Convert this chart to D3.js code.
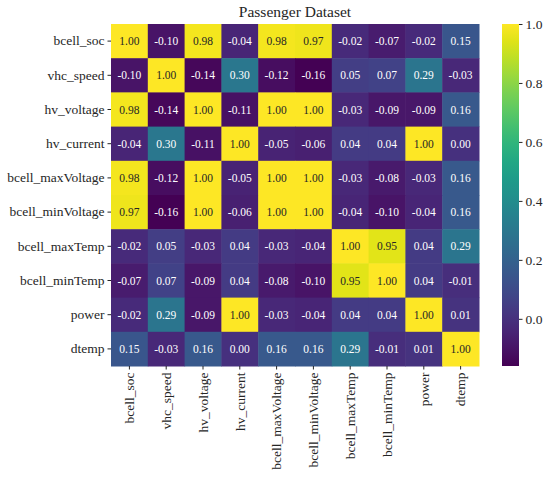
<!DOCTYPE html>
<html>
<head>
<meta charset="utf-8">
<script src="https://cdn.jsdelivr.net/npm/d3@7"></script>
<style>
  body { margin: 0; background: #fff; }
  svg { font-family: "Liberation Serif", "DejaVu Serif", serif; }
</style>
</head>
<body>
<div id="chart"></div>
<script>
  const labels = ['bcell_soc', 'vhc_speed', 'hv_voltage', 'hv_current', 'bcell_maxVoltage',
                  'bcell_minVoltage', 'bcell_maxTemp', 'bcell_minTemp', 'power', 'dtemp'];

  const corr = [
    [ 1.00, -0.10,  0.98, -0.04,  0.98,  0.97, -0.02, -0.07, -0.02,  0.15],
    [-0.10,  1.00, -0.14,  0.30, -0.12, -0.16,  0.05,  0.07,  0.29, -0.03],
    [ 0.98, -0.14,  1.00, -0.11,  1.00,  1.00, -0.03, -0.09, -0.09,  0.16],
    [-0.04,  0.30, -0.11,  1.00, -0.05, -0.06,  0.04,  0.04,  1.00,  0.00],
    [ 0.98, -0.12,  1.00, -0.05,  1.00,  1.00, -0.03, -0.08, -0.03,  0.16],
    [ 0.97, -0.16,  1.00, -0.06,  1.00,  1.00, -0.04, -0.10, -0.04,  0.16],
    [-0.02,  0.05, -0.03,  0.04, -0.03, -0.04,  1.00,  0.95,  0.04,  0.29],
    [-0.07,  0.07, -0.09,  0.04, -0.08, -0.10,  0.95,  1.00,  0.04, -0.01],
    [-0.02,  0.29, -0.09,  1.00, -0.03, -0.04,  0.04,  0.04,  1.00,  0.01],
    [ 0.15, -0.03,  0.16,  0.00,  0.16,  0.16,  0.29, -0.01,  0.01,  1.00]
  ];

  const colorbarTicks = [0.0, 0.2, 0.4, 0.6, 0.8, 1.0];
  const chartTitle = 'Passenger Dataset';

  const width = 550, height = 482;
  const margin = {top: 24, left: 111, right: 71, bottom: 116};
  const plotW = 479 - margin.left;
  const plotH = 366 - margin.top;

  const vmin = d3.min(corr.flat());
  const vmax = d3.max(corr.flat());

  const color = d3.scaleSequential(d3.interpolateViridis).domain([vmin, vmax]);

  const svg = d3.select('#chart').append('svg')
    .attr('width', width)
    .attr('height', height);

  const g = svg.append('g').attr('transform', `translate(${margin.left},${margin.top})`);

  const x = d3.scaleBand().domain(labels).range([0, plotW]);
  const y = d3.scaleBand().domain(labels).range([0, plotH]);

  const cells = [];
  corr.forEach((row, i) => row.forEach((v, j) => cells.push({r: labels[i], c: labels[j], v})));

  g.selectAll('rect.cell')
    .data(cells)
    .enter()
    .append('rect')
      .attr('class', 'cell')
      .attr('x', d => x(d.c))
      .attr('y', d => y(d.r))
      .attr('width', x.bandwidth() + 0.5)
      .attr('height', y.bandwidth() + 0.5)
      .attr('fill', d => color(d.v));

  // annotation colour like seaborn: dark text on light cells
  const textColor = v => {
    const c = d3.rgb(color(v));
    const lum = [c.r, c.g, c.b].map(ch => {
      ch /= 255;
      return ch <= 0.03928 ? ch / 12.92 : Math.pow((ch + 0.055) / 1.055, 2.4);
    });
    const L = 0.2126 * lum[0] + 0.7152 * lum[1] + 0.0722 * lum[2];
    return L > 0.408 ? '#262626' : '#ffffff';
  };

  g.selectAll('text.annot')
    .data(cells)
    .enter()
    .append('text')
      .attr('class', 'annot')
      .attr('x', d => x(d.c) + x.bandwidth() / 2)
      .attr('y', d => y(d.r) + y.bandwidth() / 2)
      .attr('text-anchor', 'middle')
      .attr('dominant-baseline', 'central')
      .attr('font-size', 11.5)
      .attr('fill', d => textColor(d.v))
      .text(d => d.v.toFixed(2));

  // axes
  const yAxis = g.append('g')
    .call(d3.axisLeft(y).tickSize(3.5).tickPadding(3));
  const xAxis = g.append('g')
    .attr('transform', `translate(0,${plotH})`)
    .call(d3.axisBottom(x).tickSize(3.5).tickPadding(3));

  [yAxis, xAxis].forEach(ax => {
    ax.select('.domain').remove();
    ax.selectAll('.tick line').attr('stroke', '#262626').attr('stroke-width', 1);
    ax.selectAll('.tick text')
      .attr('fill', '#262626')
      .attr('font-size', 13.5)
      .attr('font-family', '"Liberation Serif", serif');
  });

  xAxis.selectAll('.tick text')
    .attr('transform', 'rotate(-90)')
    .attr('text-anchor', 'end')
    .attr('x', -6.5)
    .attr('y', 0)
    .attr('dy', '0.35em');

  // title
  svg.append('text')
    .attr('x', margin.left + plotW / 2)
    .attr('y', 17)
    .attr('text-anchor', 'middle')
    .attr('font-size', 15.5)
    .attr('fill', '#262626')
    .text(chartTitle);

  // colorbar
  const cbX = 502, cbW = 17;
  const cbScale = d3.scaleLinear().domain([vmin, vmax]).range([plotH, 0]);

  const defs = svg.append('defs');
  const grad = defs.append('linearGradient')
    .attr('id', 'cbgrad')
    .attr('x1', 0).attr('y1', 1).attr('x2', 0).attr('y2', 0);
  d3.range(0, 1.0001, 0.05).forEach(t => {
    grad.append('stop')
      .attr('offset', t)
      .attr('stop-color', d3.interpolateViridis(t));
  });

  const cb = svg.append('g').attr('transform', `translate(${cbX},${margin.top})`);
  cb.append('rect')
    .attr('width', cbW)
    .attr('height', plotH)
    .attr('fill', 'url(#cbgrad)');

  const cbAxis = cb.append('g')
    .attr('transform', `translate(${cbW},0)`)
    .call(d3.axisRight(cbScale).tickValues(colorbarTicks).tickFormat(d3.format('.1f')).tickSize(3.5).tickPadding(3));
  cbAxis.select('.domain').remove();
  cbAxis.selectAll('.tick line').attr('stroke', '#262626');
  cbAxis.selectAll('.tick text')
    .attr('fill', '#262626')
    .attr('font-size', 13.5)
    .attr('font-family', '"Liberation Serif", serif');
</script>
</body>
</html>
